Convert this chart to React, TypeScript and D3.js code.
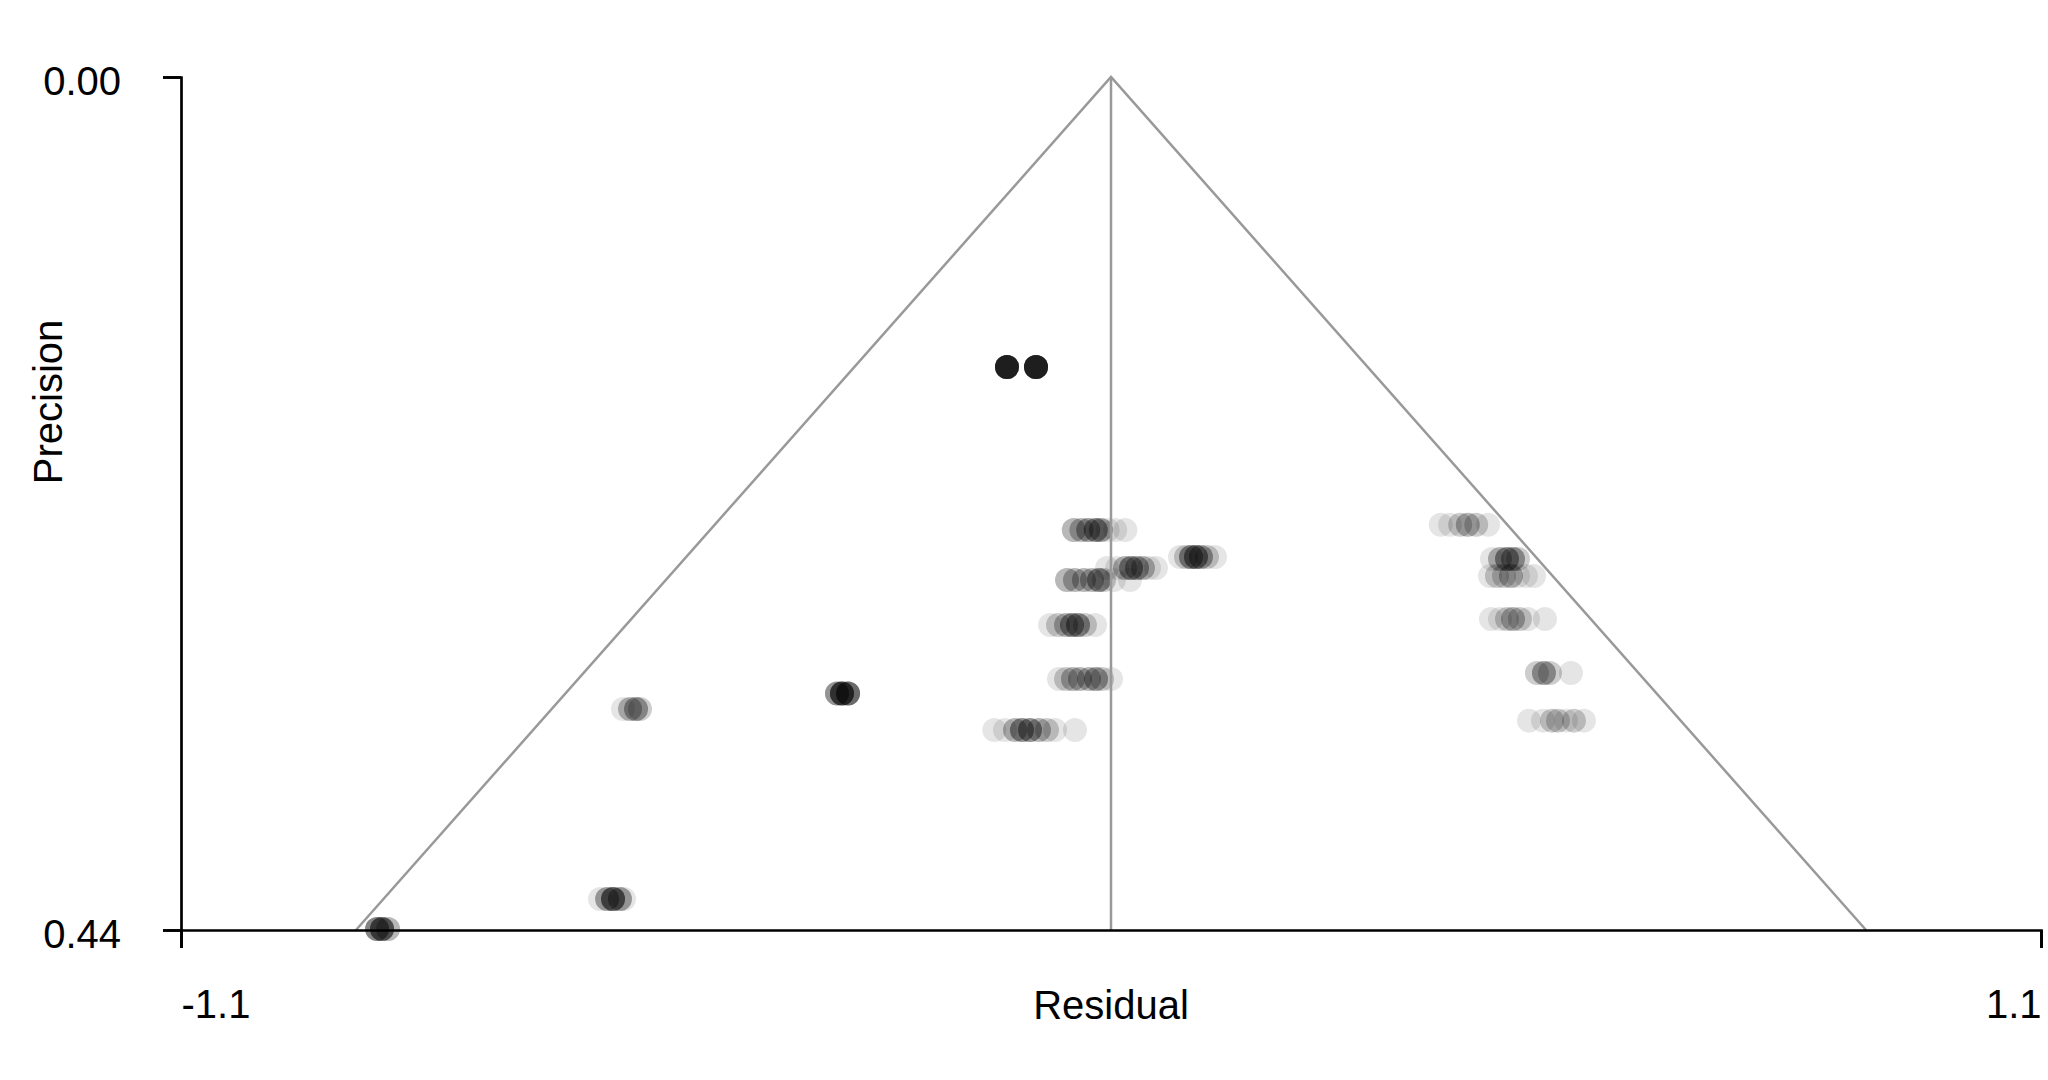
import React, { useEffect, useRef } from 'react'
import * as d3 from 'd3'

// funnel plot: residual vs standard error, many overlapping studies per row
const xTicks = [-1.1, 1.1]
const yTicks = [0, 0.44]
const funnelLimit = 0.893 // half width of the funnel at the bottom of the plot

// one entry per row of points (standard error), with residuals and how many studies sit on each
const rowSE = [0.1496, 0.2337, 0.2476, 0.2533, 0.2595, 0.2827, 0.3105, 0.3368, 0.231, 0.2486, 0.2574, 0.2796, 0.3074, 0.332, 0.326, 0.318, 0.424, 0.4395]

const rowResiduals = [
    [-0.123, -0.0887],
    [-0.044, -0.035, -0.027, -0.018, -0.012, -0.004, 0.005, 0.017],
    [0.0816, 0.0887, 0.0946, 0.1005, 0.1064, 0.1135, 0.123],
    [-0.0047, 0.0071, 0.0166, 0.0237, 0.0308, 0.0378, 0.045, 0.0532],
    [-0.052, -0.0426, -0.032, -0.0225, -0.0142, -0.0083, 0.0035, 0.0225],
    [-0.072, -0.0627, -0.0532, -0.0461, -0.039, -0.0308, -0.0189],
    [-0.0615, -0.0532, -0.045, -0.0367, -0.026, -0.0177, -0.0106, 0],
    [-0.138, -0.1254, -0.1135, -0.1053, -0.0958, -0.0852, -0.0757, -0.0662, -0.0426],
    [0.390, 0.401, 0.413, 0.422, 0.432, 0.446],
    [0.4506, 0.4601, 0.4684, 0.4755, 0.4814],
    [0.4483, 0.4565, 0.4648, 0.4731, 0.4814, 0.4908, 0.5003],
    [0.4494, 0.4601, 0.4684, 0.4755, 0.4837, 0.4932, 0.5133],
    [0.5038, 0.5121, 0.5192, 0.544],
    [0.4944, 0.5109, 0.5216, 0.5287, 0.5381, 0.5476, 0.5594],
    [-0.5772, -0.5689, -0.5618, -0.5571],
    [-0.3241, -0.3182, -0.311],
    [-0.6044, -0.596, -0.589, -0.5808, -0.576],
    [-0.8681, -0.8622, -0.8551],
]

const rowCounts = [
    [19, 19],
    [3, 3, 4, 5, 4, 1, 1, 1],
    [1, 2, 5, 6, 4, 2, 1],
    [1, 1, 3, 5, 4, 3, 1, 1],
    [3, 3, 3, 3, 5, 2, 1, 1],
    [1, 2, 3, 5, 5, 2, 1],
    [1, 2, 3, 3, 3, 4, 2, 1],
    [1, 1, 3, 5, 5, 3, 2, 1, 1],
    [1, 1, 2, 3, 2, 1],
    [1, 3, 5, 4, 2],
    [1, 2, 2, 3, 1, 1, 1],
    [1, 1, 2, 3, 2, 1, 1],
    [2, 4, 2, 1],
    [1, 1, 2, 2, 1, 2, 1],
    [1, 3, 4, 2],
    [5, 10, 8],
    [1, 4, 8, 4, 1],
    [6, 8, 3],
]

type Pt = { r: number; se: number }

const W = 2048
const H = 1080

export default function App() {
    const svgRef = useRef<SVGSVGElement>(null)

    useEffect(() => {
        if (!svgRef.current) return
        const svg = d3.select(svgRef.current)
        svg.selectAll('*').remove()

        const x = d3.scaleLinear().domain([-1.1, 1.1]).range([181, 2041])
        const y = d3.scaleLinear().domain([0, 0.44]).range([77, 930])
        const font = '"Liberation Sans", Arial, sans-serif'

        // expand every study into its own translucent circle
        const pts: Pt[] = []
        rowSE.forEach((se, i) => {
            rowResiduals[i].forEach((r, j) => {
                for (let k = 0; k < rowCounts[i][j]; k++) pts.push({ r, se })
            })
        })

        svg.append('g')
            .selectAll('circle')
            .data(pts)
            .enter().append('circle')
            .attr('cx', d => x(d.r))
            .attr('cy', d => y(d.se))
            .attr('r', 12)
            .attr('fill', '#000')
            .attr('fill-opacity', 0.1)

        // funnel and centre line
        const line = d3.line<[number, number]>().x(d => x(d[0])).y(d => y(d[1]))
        svg.append('path')
            .attr('d', line([[-funnelLimit, 0.44], [0, 0], [funnelLimit, 0.44]]))
            .attr('fill', 'none')
            .attr('stroke', '#999')
            .attr('stroke-width', 2.5)
        svg.append('path')
            .attr('d', line([[0, 0], [0, 0.44]]))
            .attr('fill', 'none')
            .attr('stroke', '#999')
            .attr('stroke-width', 2.5)

        // axes
        const yAxis = svg.append('g')
            .attr('transform', `translate(${x(-1.1)},0)`)
            .call(d3.axisLeft(y).tickValues(yTicks).tickFormat(d => (d as number).toFixed(2)).tickSize(18).tickPadding(42))
        yAxis.selectAll('text').attr('dy', '0.43em')

        const xAxis = svg.append('g')
            .attr('transform', `translate(0,${y(0.44)})`)
            .call(d3.axisBottom(x).tickValues(xTicks).tickFormat(d => (d as number).toFixed(1)).tickSize(18).tickPadding(42))
        xAxis.selectAll('text').attr('text-anchor', (_d, i) => (i === 0 ? 'start' : 'end'))

        for (const g of [xAxis, yAxis]) {
            g.attr('font-family', font).attr('font-size', 40)
            g.selectAll('text').attr('fill', '#000')
            g.selectAll('path, line').attr('stroke', '#000').attr('stroke-width', 2.7)
        }

        svg.append('text')
            .attr('x', x(0))
            .attr('y', 1019)
            .attr('text-anchor', 'middle')
            .attr('font-family', font)
            .attr('font-size', 40)
            .text('Residual')

        svg.append('text')
            .attr('transform', `translate(62,402) rotate(-90)`)
            .attr('text-anchor', 'middle')
            .attr('font-family', font)
            .attr('font-size', 40)
            .text('Precision')
    }, [])

    return (
        <svg
            ref={svgRef}
            width={W}
            height={H}
            style={{ position: 'absolute', left: 0, top: 0, background: '#fff' }}
        />
    )
}
